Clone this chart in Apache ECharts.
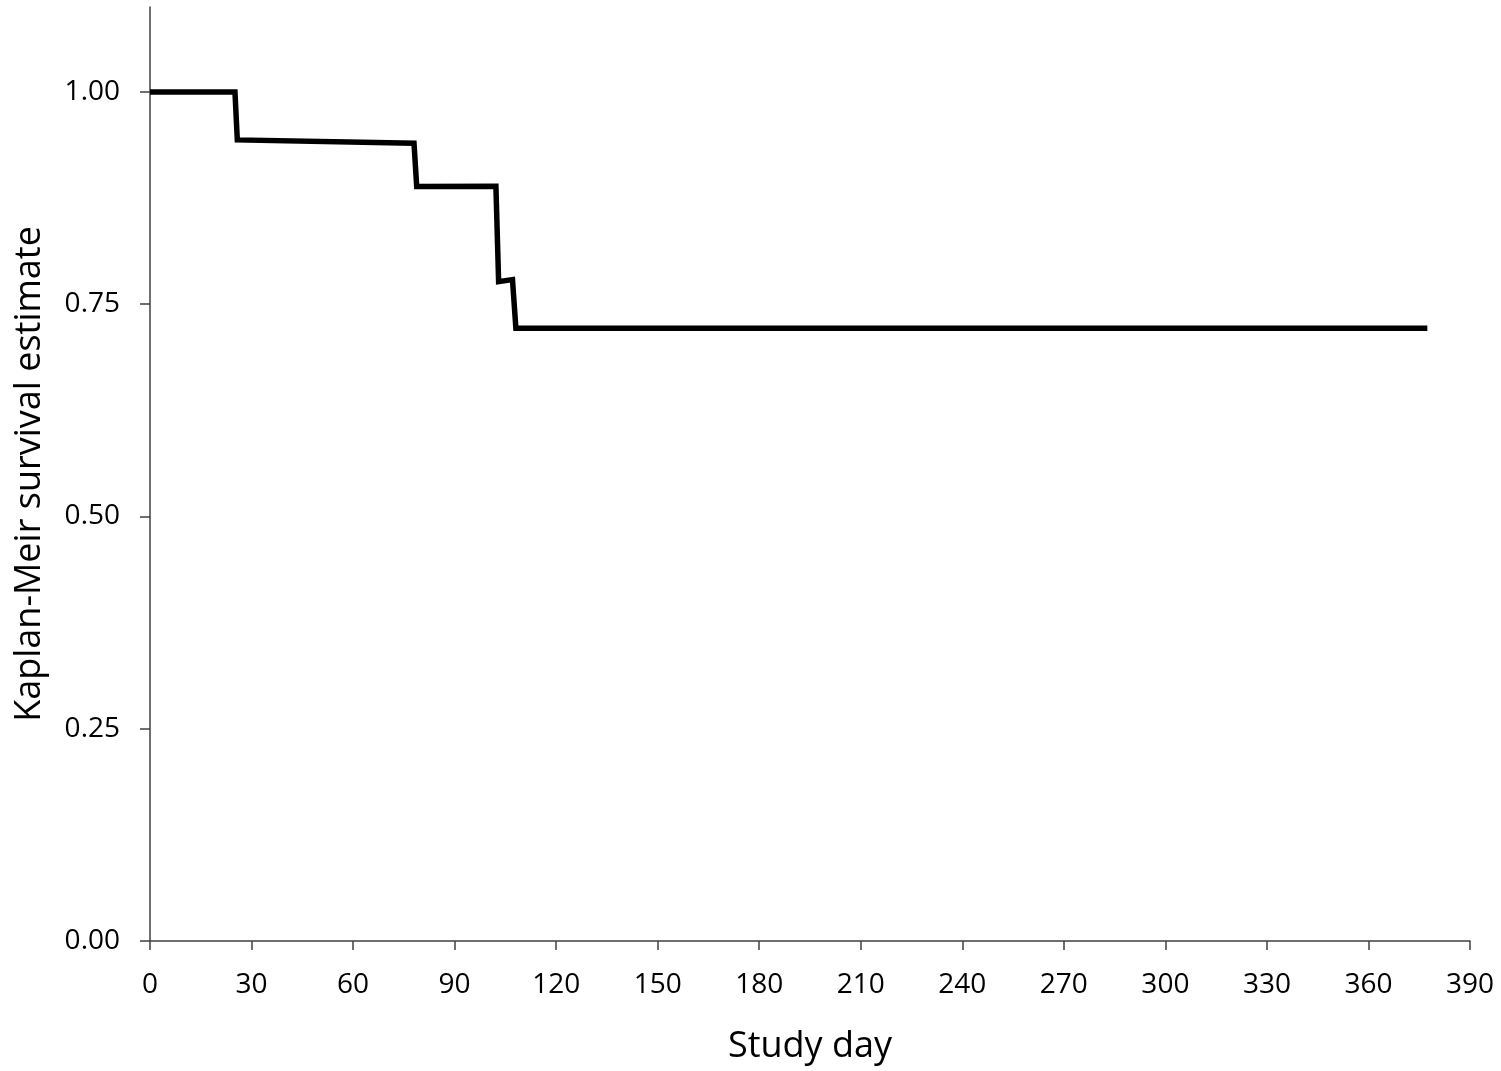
<!DOCTYPE html>
<html>
<head>
<meta charset="utf-8">
<script src="https://cdn.jsdelivr.net/npm/echarts@6/dist/echarts.min.js"></script>
<style>
  html, body { margin: 0; padding: 0; background: #fff; }
  #chart { width: 1501px; height: 1071px; }
</style>
</head>
<body>
<div id="chart"></div>
<script>
// study day of each corner of the curve
var days = [0, 25.1, 25.8, 78.0, 78.8, 102.2, 103.0, 107.1, 108.1, 377.4];
// Kaplan-Meier estimate at each corner
var survival = [1.0, 1.0, 0.9435, 0.9396, 0.8885, 0.889, 0.7766, 0.779, 0.7216, 0.7216];
var yTicks = [0, 0.25, 0.5, 0.75, 1.0];

var points = [];
for (var i = 0; i < days.length; i++) {
    points.push([days[i], survival[i]]);
}

var axisColor = '#404040';
var font = 'Open Sans, Lato, sans-serif';

var myChart = echarts.init(document.getElementById('chart'));
var option = {
    animation: false,
    backgroundColor: '#fff',
    grid: {
        left: 150,
        right: 31,
        top: 7,
        bottom: 130,
        outerBoundsMode: 'none'
    },
    xAxis: {
        type: 'value',
        min: 0,
        max: 390,
        interval: 30,
        name: 'Study day',
        nameLocation: 'middle',
        nameGap: 88,
        nameTextStyle: { color: '#000', fontSize: 36, fontFamily: font },
        axisLine: { show: true, lineStyle: { color: axisColor, width: 1.5 } },
        axisTick: { show: true, length: 9, lineStyle: { color: axisColor, width: 1.5 } },
        axisLabel: { color: '#000', fontSize: 28, fontFamily: font, margin: 30 },
        splitLine: { show: false }
    },
    yAxis: {
        type: 'value',
        min: 0,
        max: 1.1,
        name: 'Kaplan-Meir survival estimate',
        nameLocation: 'middle',
        nameGap: 102,
        nameTextStyle: { color: '#000', fontSize: 36, fontFamily: font },
        axisLine: { show: true, lineStyle: { color: axisColor, width: 1.5 } },
        axisTick: { show: true, length: 10, customValues: yTicks, lineStyle: { color: axisColor, width: 1.5 } },
        axisLabel: {
            color: '#000', fontSize: 28, fontFamily: font, margin: 30,
            customValues: yTicks,
            formatter: function (v) { return v.toFixed(2); }
        },
        splitLine: { show: false }
    },
    series: [{
        type: 'line',
        data: points,
        symbol: 'none',
        lineStyle: { color: '#000', width: 5.5, join: 'miter' }
    }]
};
myChart.setOption(option);
</script>
</body>
</html>
